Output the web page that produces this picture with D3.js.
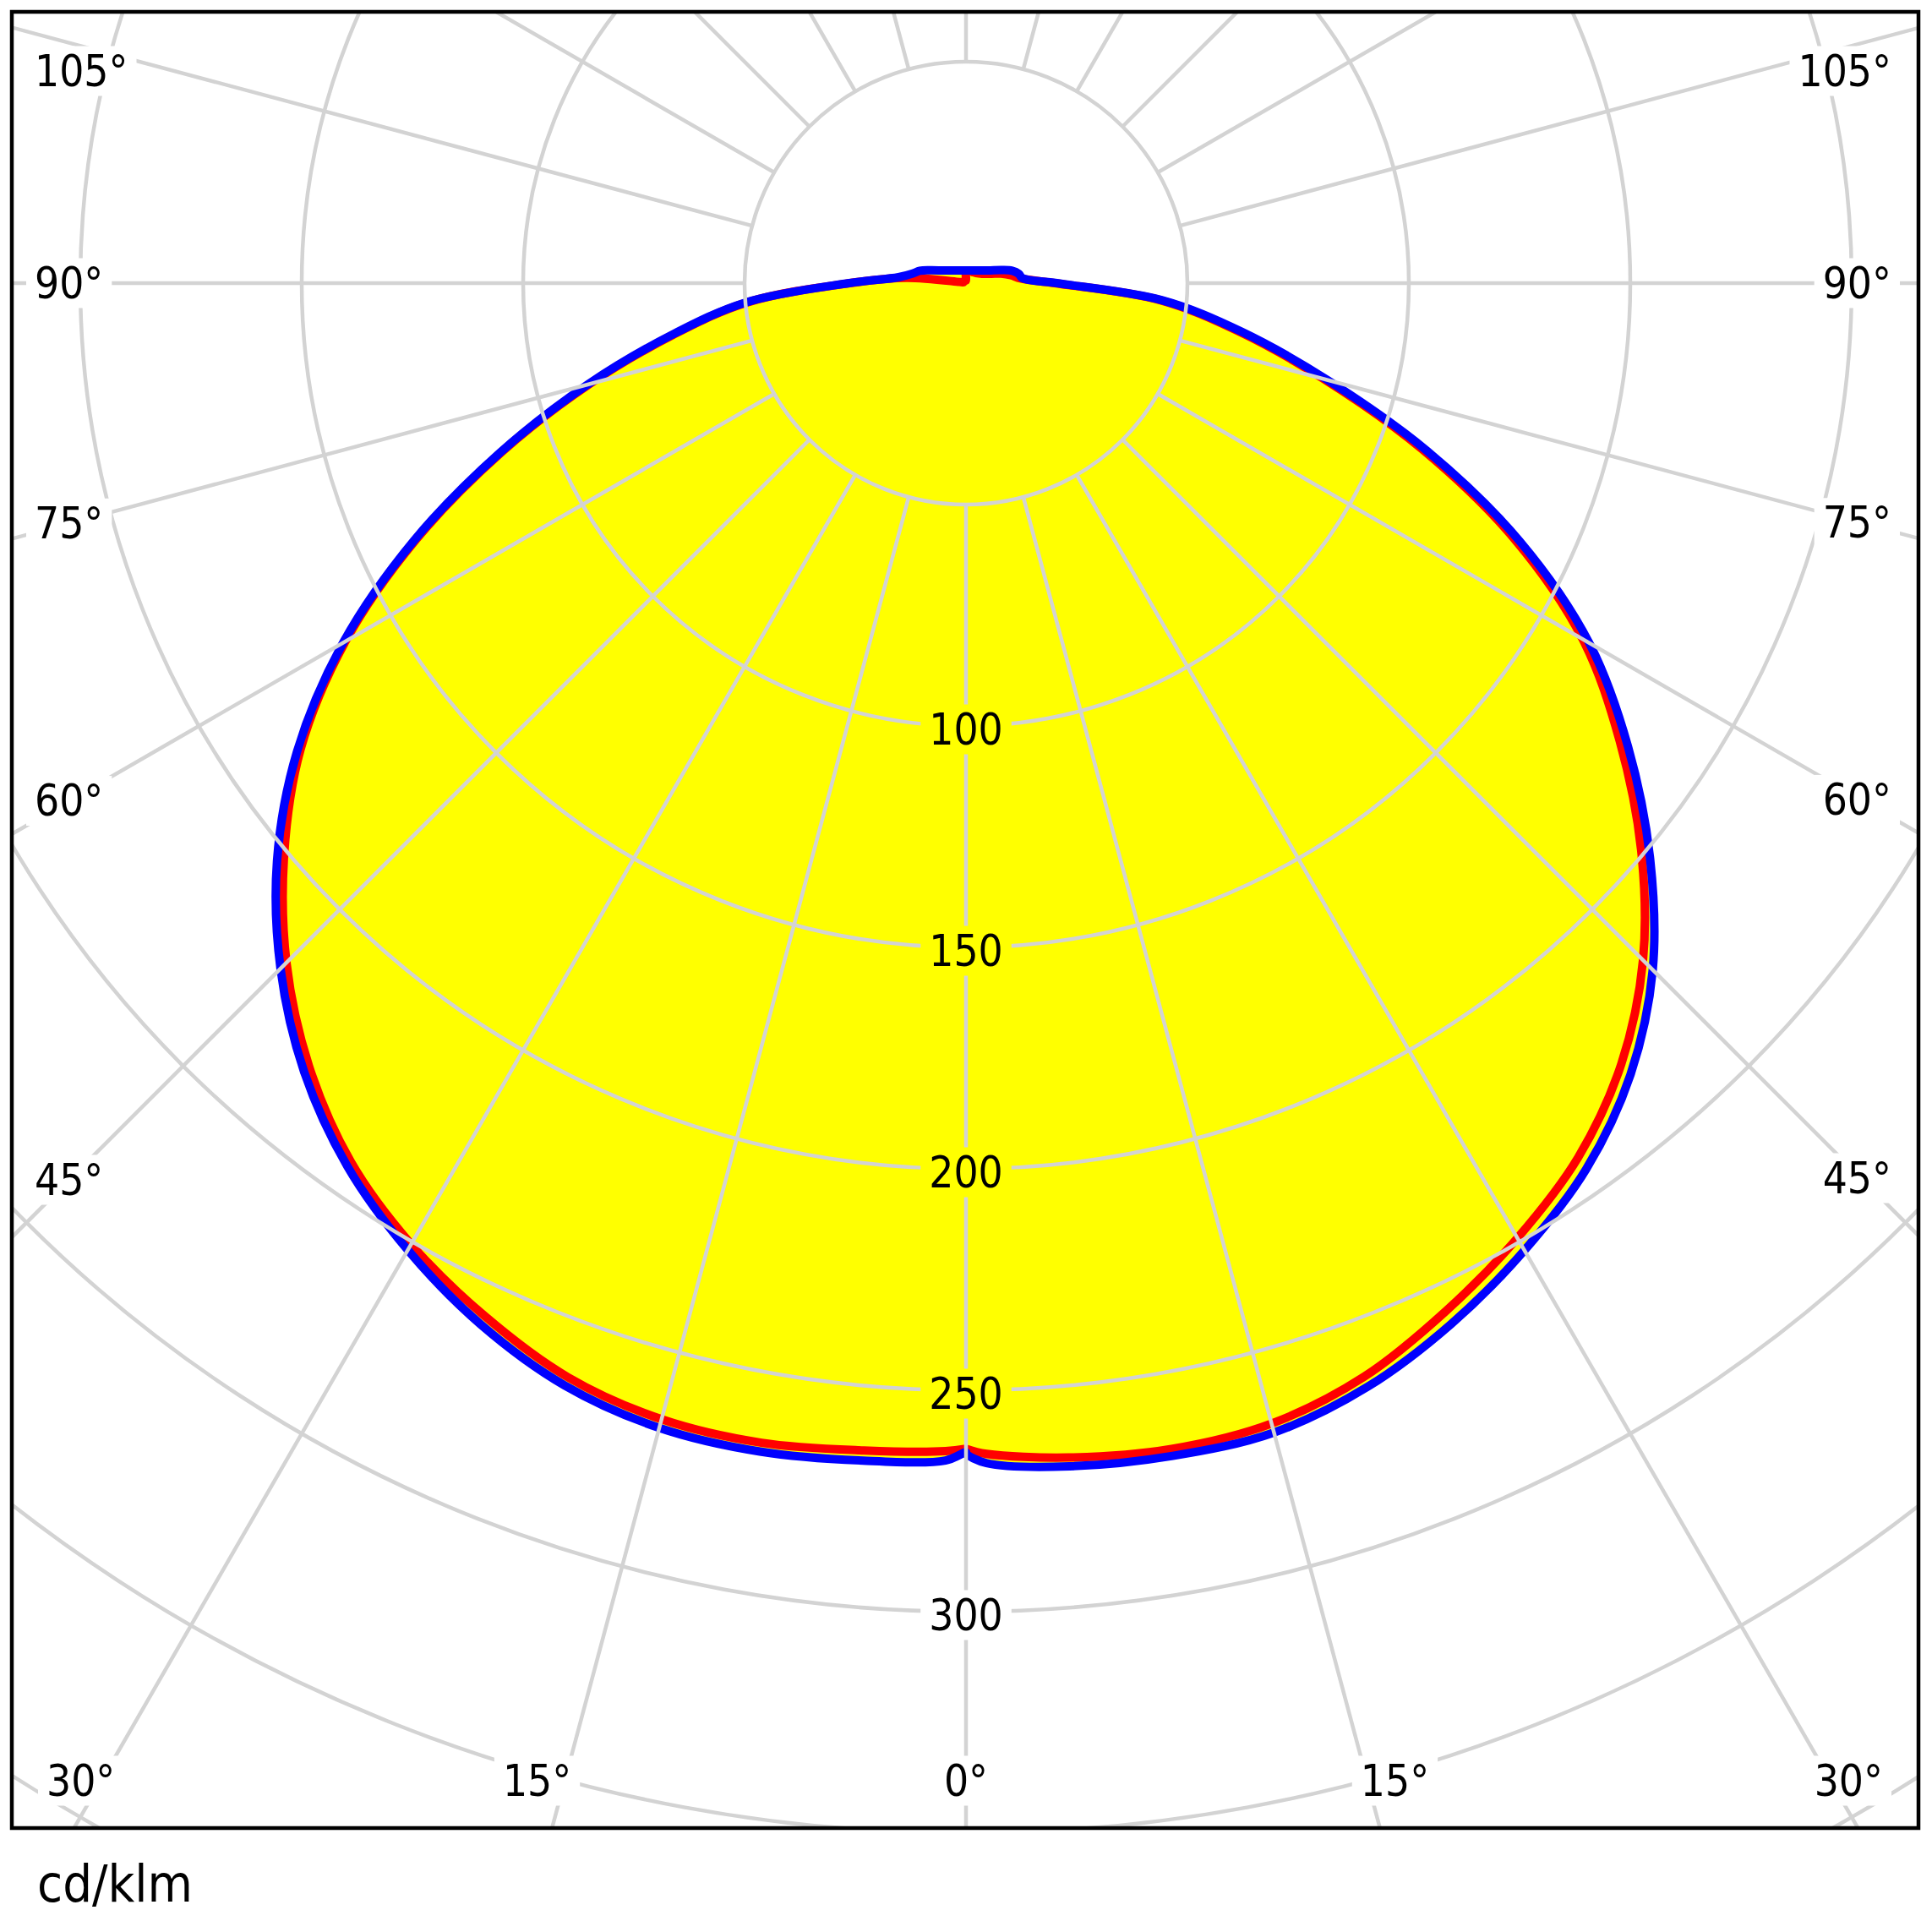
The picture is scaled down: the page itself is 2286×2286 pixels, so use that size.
<!DOCTYPE html>
<html>
<head>
<meta charset="utf-8">
<script src="https://cdn.jsdelivr.net/npm/d3@7"></script>
<style>
  body { margin: 0; background: #fff; }
  text { font-family: "DejaVu Sans Condensed", "DejaVu Sans", sans-serif; fill: #000; }
</style>
</head>
<body>
<svg id="chart" width="2286" height="2286"></svg>
<script>
// gamma angles (deg from nadir) and intensities in cd/klm
const gammaDeg = [0, 1, 5, 10, 15, 20, 25, 30, 35, 40, 45, 50, 55, 60, 65, 70, 75, 80, 85, 90,
                  95, 100, 105, 110, 120, 135, 150, 165, 180];
// red: C0 (right) / C180 (left)
const c0   = [263.2, 264.4, 266.2, 267.3, 266.6, 262.8, 256.2, 249.0, 241.0, 230.2, 216.2, 199.0, 180.2, 160.8, 136.6, 109.6, 83.6, 62.4, 44.0, 20.0,
              12.3, 10.3, 8.2, 6.2, 4.2, 3.2, 2.9, 2.8, 2.7];
const c180 = [263.2, 263.8, 264.6, 265.9, 265.6, 262.9, 257.3, 250.6, 242.2, 230.8, 217.0, 201.0, 183.4, 161.8, 137.0, 111.6, 88.0, 67.1, 49.5, 26.2,
              13.5, 1.5, 0.8, 0.6, 0.6, 0.6, 0.6, 0.6, 0.6];
// blue: C90 (right) / C270 (left)
const c90  = [264.3, 266.5, 268.2, 268.9, 268.7, 265.2, 259.3, 252.2, 244.2, 233.4, 219.3, 201.6, 182.5, 162.5, 138.0, 110.8, 84.5, 63.2, 44.5, 20.5,
              12.8, 12.1, 10.8, 8.6, 5.7, 4.05, 3.3, 2.95, 2.85];
const c270 = [264.0, 265.9, 266.9, 267.9, 267.6, 264.9, 259.4, 252.1, 243.5, 232.5, 218.9, 203.1, 184.4, 162.4, 137.5, 112.0, 88.4, 67.5, 49.8, 26.4,
              15.3, 12.3, 10.8, 8.5, 5.7, 4.05, 3.3, 2.95, 2.85];

const circleValues = [50, 100, 150, 200, 250, 300, 350, 400, 450];
const valueLabels = [100, 150, 200, 250, 300];
const rayAngles = [0, 15, 30, 45, 60, 75, 90, 105, 120, 135, 150, 165, 180];
const unitLabel = "cd/klm";

const box = { x0: 14, y0: 14, x1: 2270, y1: 2163 };
const cx = 1143, cy = 335;
const r = d3.scaleLinear().domain([0, 50]).range([0, 262]);
const rad = d => d * Math.PI / 180;

const svg = d3.select("#chart");
const defs = svg.append("defs");
defs.append("clipPath").attr("id", "boxClip")
  .append("rect")
  .attr("x", box.x0).attr("y", box.y0)
  .attr("width", box.x1 - box.x0).attr("height", box.y1 - box.y0);
const mask = defs.append("mask").attr("id", "labelMask")
  .attr("maskUnits", "userSpaceOnUse")
  .attr("x", 0).attr("y", 0).attr("width", 2286).attr("height", 2286);
mask.append("rect").attr("width", 2286).attr("height", 2286).attr("fill", "#fff");

const plot = svg.append("g").attr("transform", `translate(${cx},${cy})`);

// one closed outline: left half 180 -> 0, right half 0 -> 180
function outline(left, right) {
  const pts = [];
  for (let i = gammaDeg.length - 1; i >= 0; i--) pts.push({ a: Math.PI + rad(gammaDeg[i]), v: left[i] });
  for (let i = 0; i < gammaDeg.length; i++) pts.push({ a: Math.PI - rad(gammaDeg[i]), v: right[i] });
  return pts;
}
const line = d3.lineRadial()
  .angle(d => d.a)
  .radius(d => r(d.v))
  .curve(d3.curveCatmullRomClosed.alpha(0.5));
const curves = [
  { name: "C0-C180", pts: outline(c180, c0), color: "#ff0000" },
  { name: "C90-C270", pts: outline(c270, c90), color: "#0000ff" }
];

plot.append("g").selectAll("path").data(curves).join("path")
  .attr("d", d => line(d.pts))
  .attr("fill", "#ffff00")
  .attr("stroke", "none");

// grid
const grid = svg.append("g").attr("clip-path", "url(#boxClip)")
  .append("g").attr("mask", "url(#labelMask)")
  .append("g").attr("transform", `translate(${cx},${cy})`)
  .attr("stroke", "#d3d3d3").attr("stroke-width", 4.5).attr("fill", "none");

grid.selectAll("circle").data(circleValues).join("circle")
  .attr("r", d => r(d));

const rays = d3.range(0, 360, 15);
grid.selectAll("line").data(rays).join("line")
  .attr("x1", d => r(50) * Math.sin(rad(d)))
  .attr("y1", d => r(50) * Math.cos(rad(d)))
  .attr("x2", d => r(600) * Math.sin(rad(d)))
  .attr("y2", d => r(600) * Math.cos(rad(d)));

// curve strokes
plot.append("g").selectAll("path").data(curves).join("path")
  .attr("d", d => line(d.pts))
  .attr("fill", "none")
  .attr("stroke", d => d.color)
  .attr("stroke-width", 10)
  .attr("stroke-linejoin", "round");

// labels
const labels = svg.append("g").attr("font-size", 51);

labels.selectAll("text.val").data(valueLabels).join("text")
  .attr("class", "val")
  .attr("x", cx)
  .attr("y", d => cy + r(d) + 4)
  .attr("text-anchor", "middle")
  .attr("dominant-baseline", "central")
  .text(d => d);

const degLabels = [];
rayAngles.forEach(g => {
  [1, -1].forEach(s => {
    if (g === 0 && s === -1) return;
    const sx = Math.sin(rad(g)), dy = Math.cos(rad(g));
    const tx = sx > 1e-9 ? (s > 0 ? box.x1 - cx : cx - box.x0) / sx : Infinity;
    const ty = dy > 1e-9 ? (box.y1 - cy) / dy : (dy < -1e-9 ? (box.y0 - cy) / dy : Infinity);
    if (tx < ty) {
      // side label, hugging the frame
      const ax = s > 0 ? box.x1 - 68 : box.x0 + 68;
      let ly = cy + dy * (Math.abs(ax - cx) / sx);
      ly = Math.max(ly, box.y0 + 70);
      degLabels.push({ g, s, bottom: false, x: s > 0 ? box.x1 - 32 : box.x0 + 27, y: ly, anchor: s > 0 ? "end" : "start" });
    } else if (dy > 0) {
      const ly = box.y1 - 56;
      const lx = cx + s * sx * ((ly - cy) / dy);
      if (g === 0) degLabels.push({ g, s, bottom: true, x: lx, y: ly, anchor: "middle" });
      else degLabels.push({ g, s, bottom: true, x: lx + s * -8, y: ly, anchor: s > 0 ? "start" : "end" });
    }
  });
});

labels.selectAll("text.deg").data(degLabels).join("text")
  .attr("class", "deg")
  .attr("x", d => d.x)
  .attr("y", d => d.y)
  .attr("text-anchor", d => d.anchor)
  .attr("dominant-baseline", "central")
  .text(d => d.g + "\u00b0");

// keep bottom labels clear of the frame corners
labels.selectAll("text.deg").filter(d => d.bottom).each(function (d) {
  const b = this.getBBox();
  let shift = 0;
  if (b.x < box.x0 + 41) shift = box.x0 + 41 - b.x;
  if (b.x + b.width > box.x1 - 42) shift = box.x1 - 42 - (b.x + b.width);
  d3.select(this).attr("x", d.x + shift);
});

// punch label areas out of the grid
labels.selectAll("text").each(function () {
  const b = this.getBBox();
  mask.append("rect")
    .attr("x", b.x - 10).attr("y", b.y)
    .attr("width", b.width + 20).attr("height", b.height)
    .attr("fill", "#000");
});

svg.append("rect")
  .attr("x", box.x0).attr("y", box.y0)
  .attr("width", box.x1 - box.x0).attr("height", box.y1 - box.y0)
  .attr("fill", "none").attr("stroke", "#000").attr("stroke-width", 4.5);

svg.append("text")
  .attr("x", 44).attr("y", 2250)
  .attr("font-size", 61)
  .text(unitLabel);
</script>
</body>
</html>
